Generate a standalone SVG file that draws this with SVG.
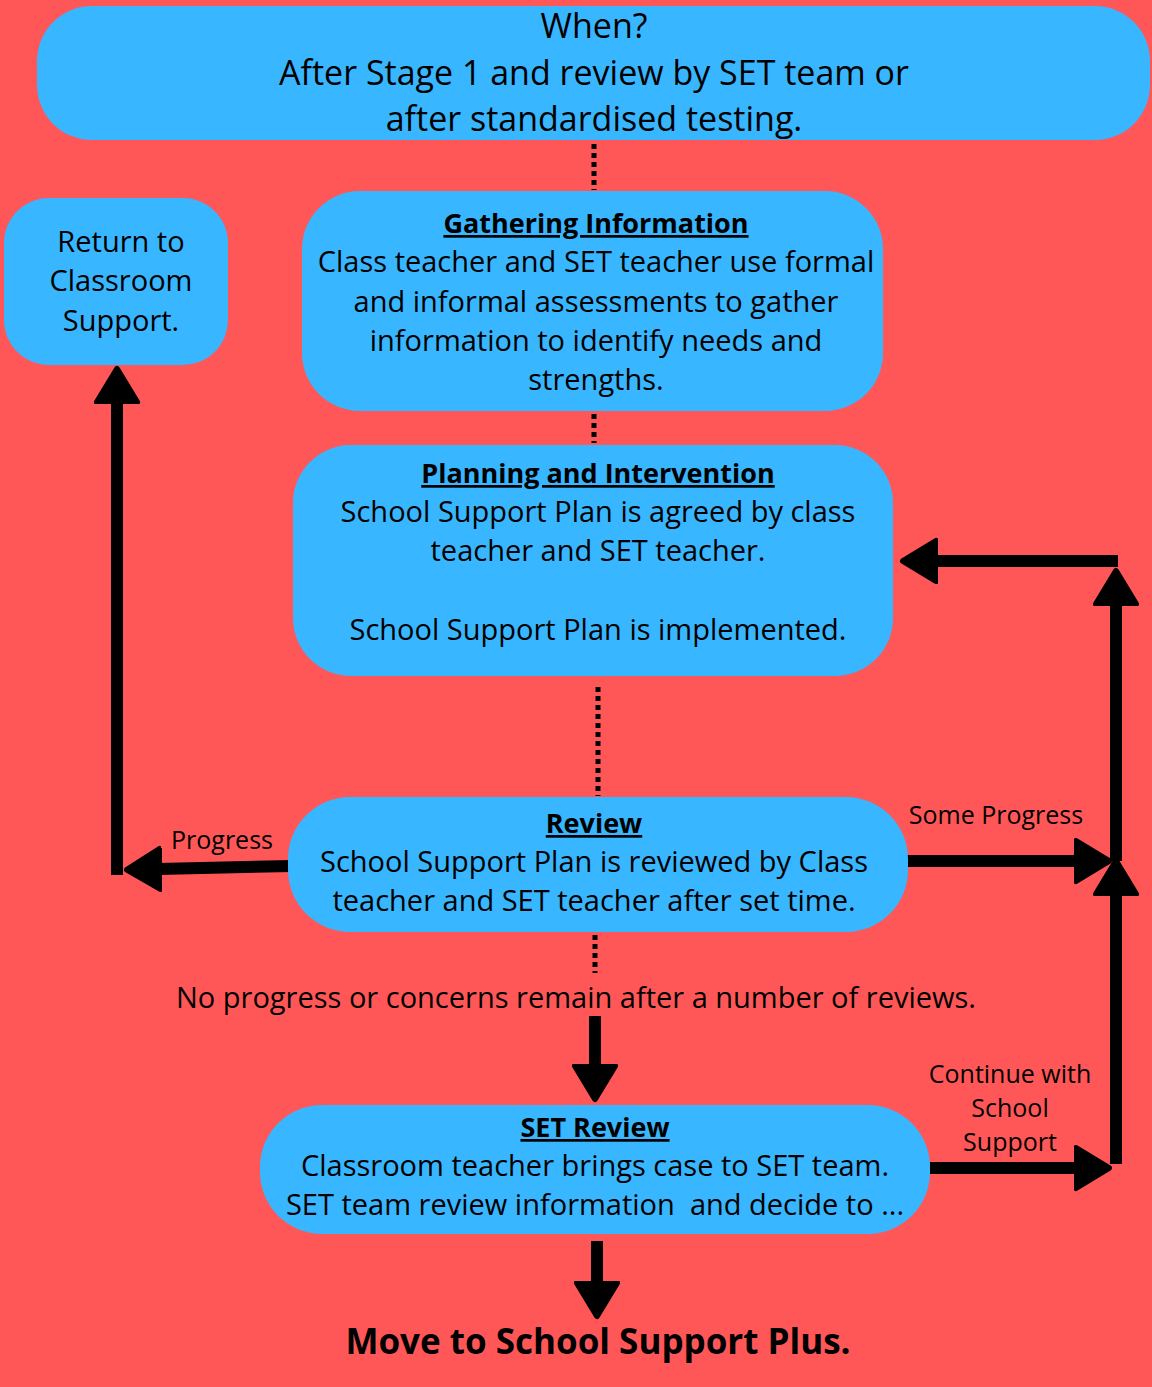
<svg xmlns="http://www.w3.org/2000/svg" width="1152" height="1387" viewBox="0 0 1152 1387">
<style>
.box{fill:#38B6FF;}
.t{font-family:"Open Sans","Liberation Sans",sans-serif;font-size:29px;fill:#000;text-anchor:middle;}
.big{font-size:34px;}
.hd{font-weight:bold;text-decoration:underline;font-size:27px;}
.lbl{font-size:25px;}
.dot{stroke:#000;stroke-width:5;stroke-dasharray:5 4;fill:none;}
.ln{stroke:#000;stroke-width:12;fill:none;}
</style>
<defs>
<marker id="ah" markerUnits="userSpaceOnUse" viewBox="-2 -26 42 52" refX="2" refY="0" markerWidth="42" markerHeight="52" orient="auto">
<path d="M0,-20 L33,0 L0,20 Z" fill="#000" stroke="#000" stroke-width="6" stroke-linejoin="round"/>
</marker>
</defs>
<rect width="1152" height="1387" fill="#FF5757"/>
<g id="connectors">
<line class="dot" x1="594" y1="144" x2="594" y2="190"/>
<line class="dot" x1="594" y1="414" x2="594" y2="443"/>
<line class="dot" x1="598" y1="687" x2="598" y2="796"/>
<line class="dot" x1="595" y1="935" x2="595" y2="973"/>
<line class="ln" x1="595" y1="1016" x2="595" y2="1068" marker-end="url(#ah)"/>
<line class="ln" x1="597" y1="1241" x2="597" y2="1285" marker-end="url(#ah)"/>
<line class="ln" x1="292" y1="866" x2="158" y2="869" marker-end="url(#ah)"/>
<line class="ln" x1="117" y1="875" x2="117" y2="400" marker-end="url(#ah)"/>
<line class="ln" x1="907" y1="861" x2="1078" y2="861" marker-end="url(#ah)"/>
<line class="ln" x1="930" y1="1168" x2="1078" y2="1168" marker-end="url(#ah)"/>
<line class="ln" x1="1116" y1="1164" x2="1116" y2="892" marker-end="url(#ah)"/>
<line class="ln" x1="1116" y1="861" x2="1116" y2="602" marker-end="url(#ah)"/>
<line class="ln" x1="1118" y1="561" x2="934" y2="561" marker-end="url(#ah)"/>
<text class="t lbl" x="222" y="849">Progress</text>
<text class="t lbl" x="996" y="824">Some Progress</text>
<text class="t lbl" x="1010" y="1083">Continue with</text>
<text class="t lbl" x="1010" y="1117">School</text>
<text class="t lbl" x="1010" y="1151">Support</text>
<text class="t" x="576" y="1008">No progress or concerns remain after a number of reviews.</text>
</g>
<g id="when">
<rect class="box" x="37" y="6" width="1113" height="134" rx="55"/>
<text class="t big" x="594" y="38">When?</text>
<text class="t big" x="594" y="85">After Stage 1 and review by SET team or</text>
<text class="t big" x="594" y="131">after standardised testing.</text>
</g>
<g id="return">
<rect class="box" x="4" y="198" width="224" height="167" rx="45"/>
<text class="t" x="121" y="252">Return to</text>
<text class="t" x="121" y="291">Classroom</text>
<text class="t" x="121" y="331">Support.</text>
</g>
<g id="gathering">
<rect class="box" x="302" y="191" width="581" height="220" rx="58"/>
<text class="t hd" x="596" y="233">Gathering Information</text>
<text class="t" x="596" y="272">Class teacher and SET teacher use formal</text>
<text class="t" x="596" y="312">and informal assessments to gather</text>
<text class="t" x="596" y="351">information to identify needs and</text>
<text class="t" x="596" y="390">strengths.</text>
</g>
<g id="planning">
<rect class="box" x="293" y="445" width="600" height="231" rx="58"/>
<text class="t hd" x="598" y="483">Planning and Intervention</text>
<text class="t" x="598" y="522">School Support Plan is agreed by class</text>
<text class="t" x="598" y="561">teacher and SET teacher.</text>
<text class="t" x="598" y="640">School Support Plan is implemented.</text>
</g>
<g id="review">
<rect class="box" x="288" y="797" width="620" height="135" rx="62"/>
<text class="t hd" x="594" y="833">Review</text>
<text class="t" x="594" y="872">School Support Plan is reviewed by Class</text>
<text class="t" x="594" y="911">teacher and SET teacher after set time.</text>
</g>
<g id="setreview">
<rect class="box" x="260" y="1105" width="670" height="129" rx="62"/>
<text class="t hd" x="595" y="1137">SET Review</text>
<text class="t" x="595" y="1176">Classroom teacher brings case to SET team.</text>
<text class="t" x="595" y="1215" style="white-space:pre">SET team review information  and decide to ...</text>
</g>
<g id="plus">
<text class="t" x="598" y="1354" style="font-weight:bold;font-size:35px">Move to School Support Plus.</text>
</g>
</svg>
